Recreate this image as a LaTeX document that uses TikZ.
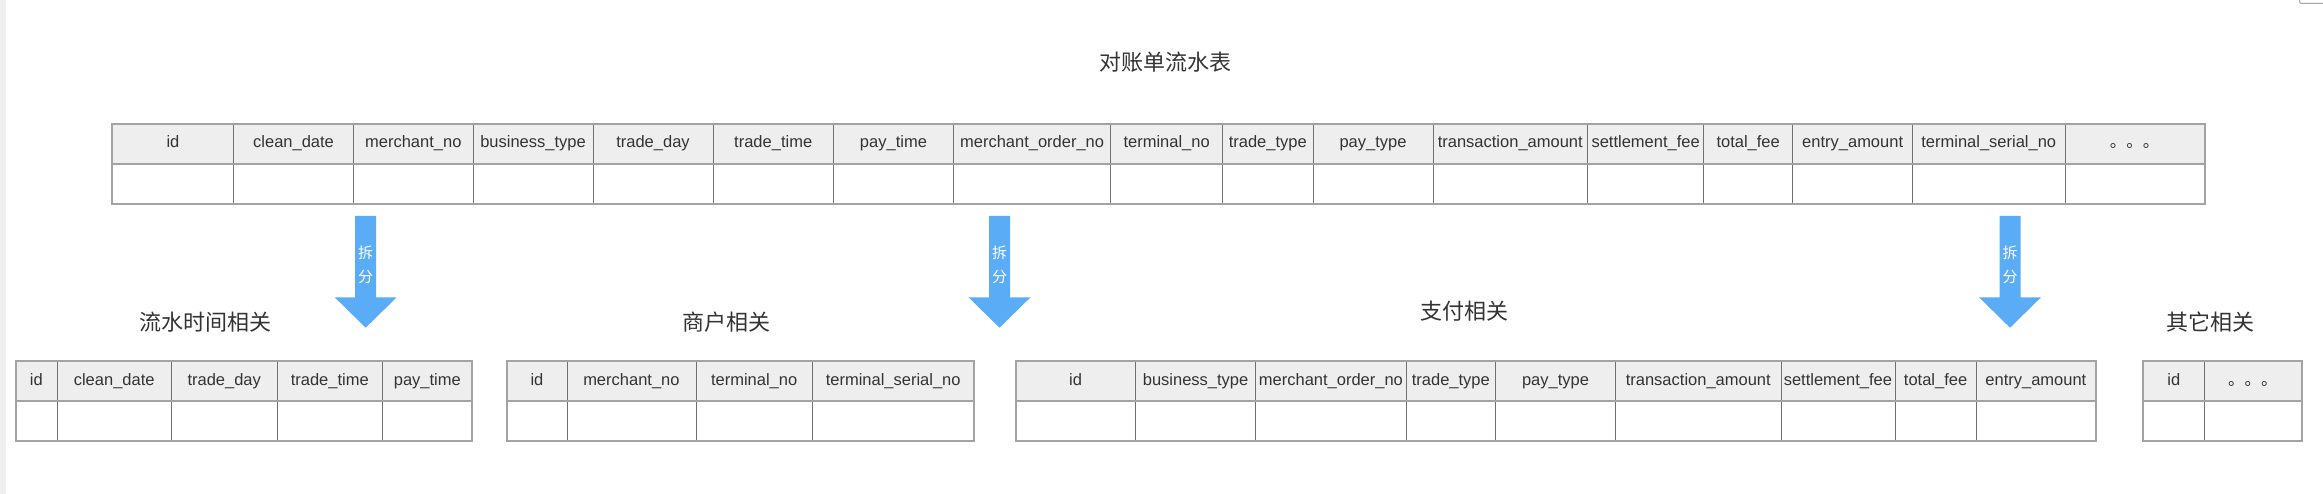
\documentclass[tikz,border=0pt]{standalone}
\usepackage{fontspec}
\setmainfont{Liberation Sans}
\newfontfamily\cjk{Noto Sans CJK SC}
\definecolor{hdr}{HTML}{EEEEEE}
\definecolor{txt}{HTML}{333333}
\definecolor{outerc}{HTML}{A3A3A3}
\definecolor{divc}{HTML}{707070}
\definecolor{arrowc}{RGB}{91,172,246}
\definecolor{strip}{HTML}{EFEFEF}
\tikzset{
  hcell/.style={fill=hdr, minimum height=40pt, inner sep=0pt, text=txt,
    font=\fontsize{16.5}{18}\selectfont, text height=12pt, text depth=4pt},
  bcell/.style={minimum height=40pt, inner sep=0pt},
  divider/.style={draw=divc, line width=1pt},
  outer/.style={draw=outerc, line width=2pt},
  title/.style={text=txt, font=\cjk\fontsize{22}{26}\selectfont, inner sep=0pt},
  splitarrow/.style={fill=arrowc, draw=none},
  splittext/.style={text=white, font=\cjk\fontsize{15}{24}\selectfont, align=center, inner sep=0pt},
}
\newcommand{\mktable}[4]{% name, top y, number of columns, list
  \foreach \l/\r/\t [count=\i] in {#4} {
    \node[hcell, minimum width={(\r-\l)*1pt}] (#1h\i) at ({(\l+\r)/2}, {#2+20}) {\t};
    \node[bcell, minimum width={(\r-\l)*1pt}] (#1b\i) at ({(\l+\r)/2}, {#2+60}) {};
  }
  \foreach \i in {1,...,#3} {
    \draw[divider] (#1h\i.north east) -- (#1b\i.south east);
  }
  \draw[outer] (#1h1.south west) -- (#1h#3.south east);
  \draw[outer] (#1h1.north west) rectangle (#1b#3.south east);
}
\begin{document}
\begin{tikzpicture}[x=1pt,y=-1pt]
\useasboundingbox (0,0) rectangle (2323,494);
\fill[white] (0,0) rectangle (2323,494);
\fill[strip] (0,0) rectangle (5.5,494);
\draw[outerc, line width=1pt, rounded corners=2pt] (2299.5,-6) rectangle (2330,3.5);

% titles
\node[title] (tmain) at (1165,61.7) {对账单流水表};
\node[title] (t1) at (205.5,321.7) {流水时间相关};
\node[title] (t2) at (726.5,321.7) {商户相关};
\node[title] (t3) at (1464.5,310.7) {支付相关};
\node[title] (t4) at (2210,322.5) {其它相关};

% main table
\mktable{M}{124}{17}{112.5/233.5/id, 233.5/353.6/clean\_date, 353.6/473/merchant\_no,
  473/593/business\_type, 593/713/trade\_day, 713/833.4/trade\_time, 833.4/953.5/pay\_time,
  953.5/1110.7/merchant\_order\_no, 1110.7/1222.5/terminal\_no, 1222.5/1313/trade\_type,
  1313/1433/pay\_type, 1433/1587.5/transaction\_amount, 1587.5/1703.7/settlement\_fee,
  1703.7/1792.6/total\_fee, 1792.6/1912.7/entry\_amount, 1912.7/2064.8/terminal\_serial\_no,
  2064.8/2204.4/{\cjk 。。。}}

% lower tables
\mktable{A}{361}{5}{16/56.8/id, 56.8/171.6/clean\_date, 171.6/276.8/trade\_day,
  276.8/382.7/trade\_time, 382.7/472/pay\_time}
\mktable{B}{361}{4}{507/567/id, 567/695.8/merchant\_no, 695.8/812.5/terminal\_no,
  812.5/973.9/terminal\_serial\_no}
\mktable{C}{361}{9}{1015.7/1135.6/id, 1135.6/1255.6/business\_type,
  1255.6/1406.2/merchant\_order\_no, 1406.2/1495.5/trade\_type, 1495.5/1615.5/pay\_type,
  1615.5/1781/transaction\_amount, 1781/1894.8/settlement\_fee, 1894.8/1976.3/total\_fee,
  1976.3/2095.4/entry\_amount}
\mktable{D}{361}{2}{2143.4/2204.3/id, 2204.3/2301.3/{\cjk 。。。}}

% split arrows
\foreach \cx [count=\k] in {365.7, 999.5, 2010} {
  \fill[splitarrow] (\cx-10.5,216) -- (\cx+10.5,216) -- (\cx+10.5,297.3) -- (\cx+31,297.3)
    -- (\cx,327.7) -- (\cx-31,297.3) -- (\cx-10.5,297.3) -- cycle;
  \node[splittext] (s\k) at (\cx,265.3) {拆\\分};
}
\end{tikzpicture}
\end{document}
